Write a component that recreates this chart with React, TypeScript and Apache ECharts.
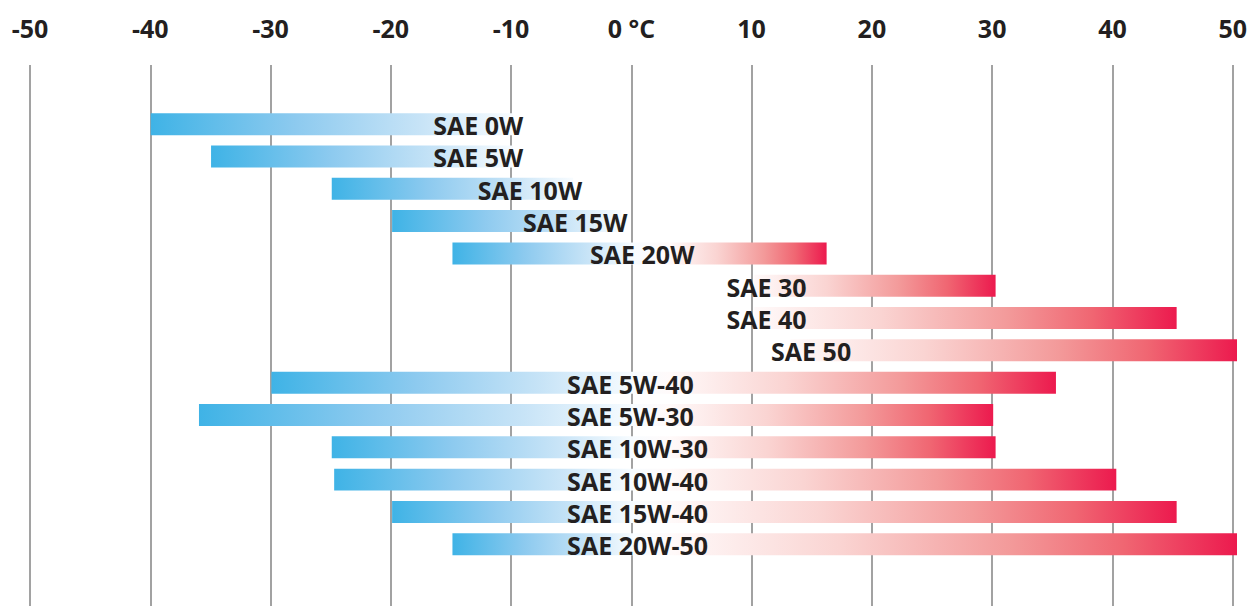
import React, { useEffect, useRef } from "react";
import * as echarts from "echarts";

// Oil grades (top to bottom)
const grades = [
  "SAE 0W",
  "SAE 5W",
  "SAE 10W",
  "SAE 15W",
  "SAE 20W",
  "SAE 30",
  "SAE 40",
  "SAE 50",
  "SAE 5W-40",
  "SAE 5W-30",
  "SAE 10W-30",
  "SAE 10W-40",
  "SAE 15W-40",
  "SAE 20W-50",
];
// Lower and upper ambient temperature (°C) of each grade
const lowTemp = [-40, -35, -25, -20, -15, 10, 10, 13, -30, -36, -25, -24.8, -20, -15];
const highTemp = [-10, -10, -5, -1, 16, 30, 45, 50, 35, 29.8, 30, 40, 45, 50];
// Temperature at which each grade's name starts
const labelAt = [-16.6, -16.6, -12.9, -9.15, -3.6, 7.7, 7.7, 11.4, -5.5, -5.5, -5.5, -5.5, -5.5, -5.5];
// Temperature axis ticks
const tempMin = -50;
const tempMax = 50;
const tempStep = 10;

const BLUE_RAMP: [number, string][] = [
  [0, "#3fb3e6"],
  [0.4, "#8dcaef"],
  [0.75, "#c8e4f7"],
  [1, "#f8fcff"],
];
const RED_RAMP: [number, string][] = [
  [0, "#fffafa"],
  [0.3, "#fad4d2"],
  [0.6, "#f39a9a"],
  [0.8, "#f06672"],
  [1, "#ec1a4e"],
];
const WHITE_FROM = 0;
const WHITE_TO = 3;

function barGradient(low: number, high: number) {
  const span = high - low;
  const f = (t: number) => Math.min(1, Math.max(0, (t - low) / span));
  const stops: { offset: number; color: string }[] = [];
  if (low < WHITE_FROM) {
    const e = f(Math.min(high, WHITE_FROM));
    BLUE_RAMP.forEach(([o, c]) => stops.push({ offset: o * e, color: c }));
  }
  if (high > WHITE_TO) {
    const s = f(Math.max(low, WHITE_TO));
    RED_RAMP.forEach(([o, c]) => stops.push({ offset: s + o * (1 - s), color: c }));
  }
  if (low >= WHITE_FROM && high <= WHITE_TO) {
    stops.push({ offset: 0, color: "#ffffff" }, { offset: 1, color: "#ffffff" });
  }
  return new echarts.graphic.LinearGradient(0, 0, 1, 0, stops);
}

const FONT = "'Open Sans', 'Noto Sans', sans-serif";
const INK = "#231f20";

export default function App() {
  const ref = useRef<HTMLDivElement>(null);
  useEffect(() => {
    if (!ref.current) return;
    const chart = echarts.init(ref.current, null, { renderer: "svg" });
    const data = grades.map((g, i) => [lowTemp[i], highTemp[i], i, labelAt[i]]);
    chart.setOption({
      animation: false,
      backgroundColor: "#ffffff",
      grid: [
        { left: 30, right: 13, top: 65, bottom: 0 },
        { left: 30, right: 13, top: 108, bottom: 45.6 },
      ],
      xAxis: [
        {
          type: "value",
          gridIndex: 0,
          min: tempMin,
          max: tempMax,
          interval: tempStep,
          position: "top",
          axisLine: { show: false },
          axisTick: { show: false },
          axisLabel: {
            margin: 25,
            color: INK,
            fontFamily: FONT,
            fontWeight: "bold",
            fontSize: 25,
            formatter: (v: number) => (v === 0 ? "0 °C" : String(v)),
          },
          splitLine: { show: true, lineStyle: { color: "#a2a2a2", width: 2 } },
        },
        {
          type: "value",
          gridIndex: 1,
          min: tempMin,
          max: tempMax,
          interval: tempStep,
          show: false,
          splitLine: { show: false },
        },
      ],
      yAxis: [
        { type: "value", gridIndex: 0, show: false, splitLine: { show: false } },
        {
          type: "category",
          gridIndex: 1,
          data: grades,
          inverse: true,
          show: false,
        },
      ],
      series: [
        {
          type: "custom",
          xAxisIndex: 1,
          yAxisIndex: 1,
          encode: { x: [0, 1], y: 2 },
          data,
          renderItem: (params: any, api: any) => {
            const low = api.value(0);
            const high = api.value(1);
            const idx = api.value(2);
            const lab = api.value(3);
            const p0 = api.coord([low, idx]);
            const p1 = api.coord([high, idx]);
            const pl = api.coord([lab, idx]);
            const h = api.size([0, 1])[1] * 0.68;
            return {
              type: "group",
              children: [
                {
                  type: "rect",
                  shape: { x: p0[0], y: p0[1] - h / 2, width: p1[0] - p0[0], height: h },
                  style: { fill: barGradient(low, high) },
                },
                {
                  type: "text",
                  x: pl[0],
                  y: pl[1] + 1,
                  style: {
                    text: grades[idx],
                    fill: INK,
                    fontFamily: FONT,
                    fontWeight: "bold",
                    fontSize: 25,
                    align: "left",
                    verticalAlign: "middle",
                  },
                },
              ],
            };
          },
        },
      ],
    });
    return () => chart.dispose();
  }, []);
  return (
    <div
      ref={ref}
      style={{ position: "fixed", left: 0, top: 0, width: 1250, height: 606 }}
    />
  );
}
